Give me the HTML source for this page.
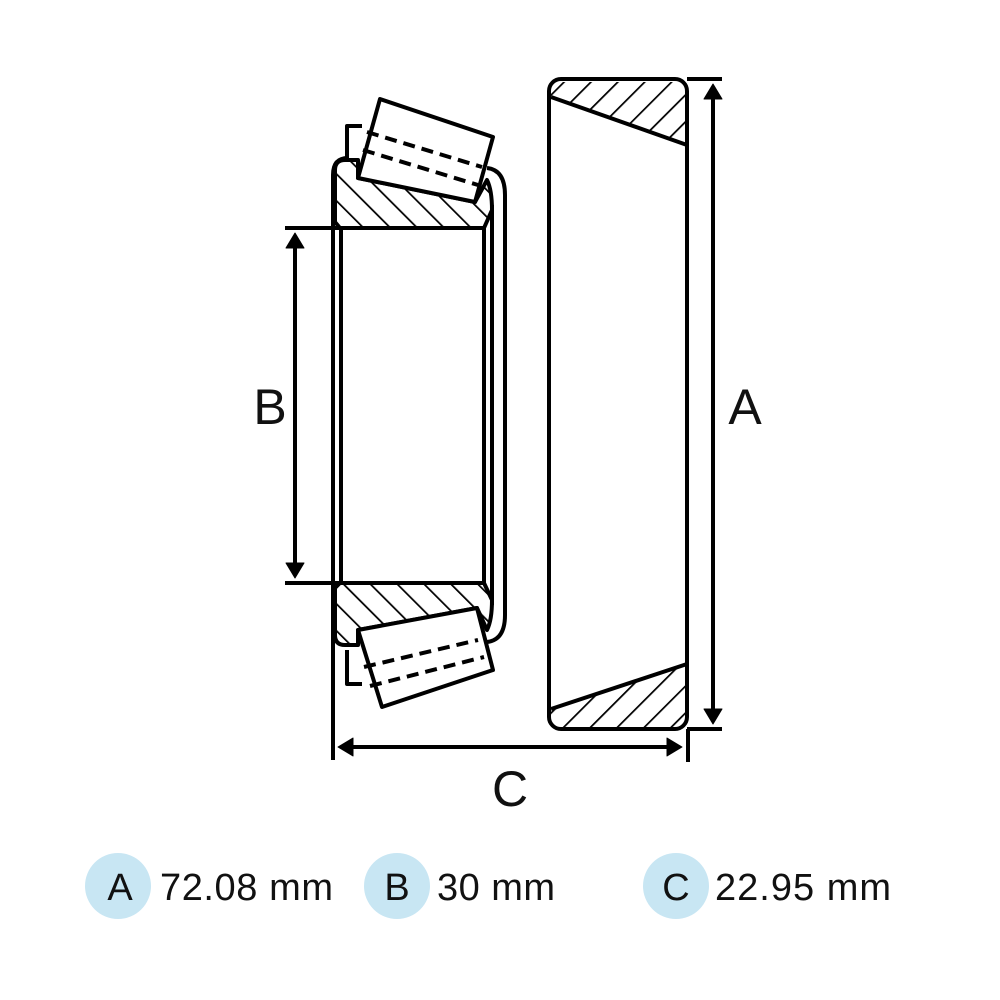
<!DOCTYPE html>
<html><head><style>body{margin:0;background:#fff}svg{display:block}</style></head><body>
<svg width="1000" height="1000" viewBox="0 0 1000 1000" xmlns="http://www.w3.org/2000/svg">
<defs>
<pattern id="h1" patternUnits="userSpaceOnUse" width="19" height="19" patternTransform="rotate(-45)"><line x1="0" y1="0" x2="0" y2="19" stroke="#000" stroke-width="3.5"/></pattern>
<pattern id="h2" patternUnits="userSpaceOnUse" width="19" height="19" patternTransform="rotate(45)"><line x1="0" y1="0" x2="0" y2="19" stroke="#000" stroke-width="3.5"/></pattern>
</defs>
<g fill="none" stroke="#000" stroke-width="4" stroke-linejoin="round">
<path d="M335,170 Q335,160 345,160 L358,160 L358,178 L475,202 L487,180 Q492,190 492,210 L484,228 L340,228 L335,222 Z" fill="url(#h1)"/>
<path d="M335,588 L340,583 L484,583 L492,600 Q492,620 487,630 L477,608 L358,630 L358,645 L345,645 Q335,645 335,635 Z" fill="url(#h1)"/>
<path d="M333,175 Q333,158 348,158"/>
<path d="M333,175 L333,760"/>
<line x1="341" y1="228" x2="341" y2="583"/>
<line x1="484" y1="228" x2="484" y2="583"/>
<path d="M492,205 L492,605"/>
<path d="M487,168 Q505,170 505,195 L505,615 Q505,640 487,642"/>
<path d="M362,126 L347,126 L347,158"/>
<path d="M362,684 L347,684 Q347,676 347,650"/>
<path d="M380,99 L493,137 L475,202 L358,178 Z" fill="#fff"/>
<path d="M367,132 L482,167 M363,150 L478,185" stroke-dasharray="12,7"/>
<path d="M358,630 L477,608 L493,670 L382,707 Z" fill="#fff"/>
<path d="M364,667 L478,640 M370,686 L484,657" stroke-dasharray="12,7"/>
<path d="M551,97 L687,145 L687,82 L560,82 Q551,82 551,92 Z" fill="url(#h2)" stroke="none"/>
<path d="M551,709 L687,664 L687,727 L560,727 Q551,727 551,717 Z" fill="url(#h2)" stroke="none"/>
<rect x="549" y="79" width="138" height="650" rx="12"/>
<line x1="551" y1="97" x2="687" y2="145"/>
<line x1="551" y1="709" x2="687" y2="664"/>
<line x1="687" y1="79" x2="722" y2="79"/>
<line x1="687" y1="729" x2="722" y2="729"/>
<line x1="713" y1="98" x2="713" y2="710"/>
<path d="M713,84 L704,99 L722,99 Z M713,724 L704,709 L722,709 Z" fill="#000" stroke-width="1"/>
<line x1="285" y1="228" x2="340" y2="228"/>
<line x1="285" y1="583" x2="340" y2="583"/>
<line x1="295" y1="246" x2="295" y2="565"/>
<path d="M295,233 L286,248 L304,248 Z M295,578 L286,563 L304,563 Z" fill="#000" stroke-width="1"/>
<line x1="688" y1="729" x2="688" y2="762"/>
<line x1="352" y1="747" x2="668" y2="747"/>
<path d="M338,747 L353,738 L353,756 Z M682,747 L667,738 L667,756 Z" fill="#000" stroke-width="1"/>
</g>
<g font-family="'Liberation Sans',sans-serif" fill="#111">
<text x="745" y="424" font-size="50" text-anchor="middle">A</text>
<text x="270" y="424" font-size="50" text-anchor="middle">B</text>
<text x="510" y="806" font-size="50" text-anchor="middle">C</text>
<circle cx="118" cy="886" r="33" fill="#c8e6f3"/>
<circle cx="397" cy="886" r="33" fill="#c8e6f3"/>
<circle cx="676" cy="886" r="33" fill="#c8e6f3"/>
<g font-size="38">
<text x="120" y="900" text-anchor="middle">A</text>
<text x="397" y="900" text-anchor="middle">B</text>
<text x="676" y="900" text-anchor="middle">C</text>
<text x="160" y="900" textLength="173">72.08 mm</text>
<text x="437" y="900" textLength="118">30 mm</text>
<text x="715" y="900" textLength="176">22.95 mm</text>
</g>
</g>
</svg>
</body></html>
